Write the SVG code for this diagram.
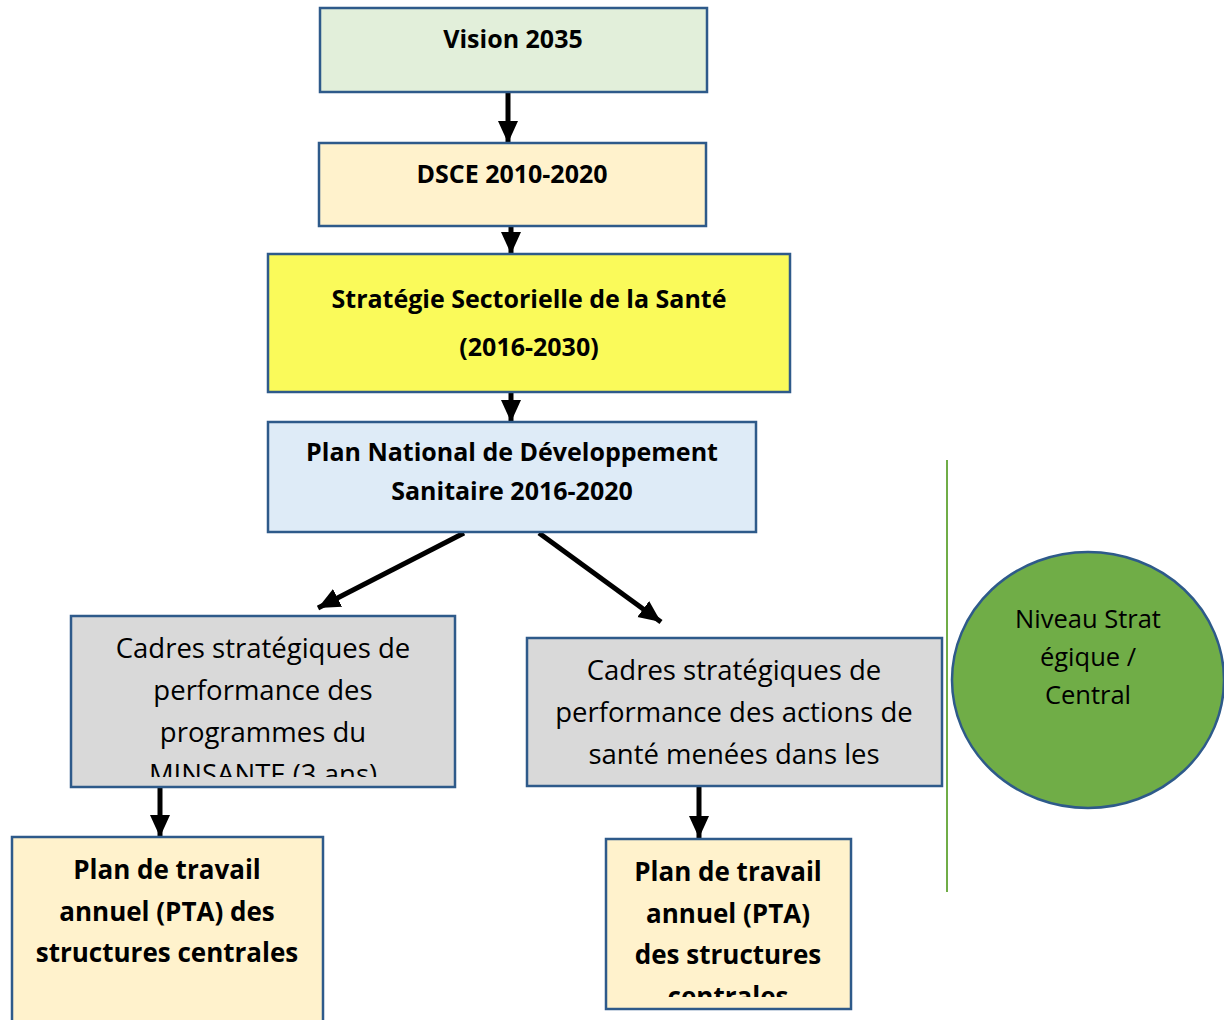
<svg xmlns="http://www.w3.org/2000/svg" width="1224" height="1020" viewBox="0 0 1224 1020">
<style>
.box{stroke:#2E5A8A;stroke-width:2.5}
.b{font-family:"Open Sans","Noto Sans",sans-serif;font-weight:bold;font-size:25px;fill:#000;text-anchor:middle}
.bp{font-size:26px}
.r{font-family:"Open Sans","Noto Sans",sans-serif;font-size:27.5px;fill:#000;text-anchor:middle}
.c{font-family:"Open Sans","Noto Sans",sans-serif;font-size:25.5px;fill:#000;text-anchor:middle}
.ar{stroke:#000;stroke-width:5;fill:none}
</style>
<defs>
<marker id="ah" markerUnits="userSpaceOnUse" markerWidth="24" markerHeight="24" viewBox="0 0 24 24" refX="22" refY="12" orient="auto">
<path d="M0,2 L22,12 L0,22 Z" fill="#000"/>
</marker>
<clipPath id="clipL"><rect x="72" y="617" width="382" height="160"/></clipPath>
<clipPath id="clipR"><rect x="528" y="639" width="413" height="146"/></clipPath>
<clipPath id="clipP"><rect x="607" y="840" width="243" height="157"/></clipPath>
</defs>
<rect width="1224" height="1020" fill="#fff"/>
<g id="connectors">
<line class="ar" x1="508" y1="93" x2="508" y2="143" marker-end="url(#ah)"/>
<line class="ar" x1="511" y1="222" x2="511" y2="254" marker-end="url(#ah)"/>
<line class="ar" x1="511" y1="392" x2="511" y2="422" marker-end="url(#ah)"/>
<line class="ar" x1="464" y1="533" x2="318" y2="608" marker-end="url(#ah)"/>
<line class="ar" x1="539" y1="533" x2="661" y2="622" marker-end="url(#ah)"/>
<line class="ar" x1="160" y1="788" x2="160" y2="837" marker-end="url(#ah)"/>
<line class="ar" x1="699" y1="787" x2="699" y2="838" marker-end="url(#ah)"/>
<line x1="947" y1="460" x2="947" y2="892" stroke="#70AD47" stroke-width="2"/>
</g>
<g id="vision">
<rect class="box" x="320" y="8" width="387" height="84" fill="#E2EFDA"/>
<text class="b" x="513" y="48">Vision 2035</text>
</g>
<g id="dsce">
<rect class="box" x="319" y="143" width="387" height="83" fill="#FFF2CC"/>
<text class="b" x="512" y="183">DSCE 2010-2020</text>
</g>
<g id="strategie">
<rect class="box" x="268" y="254" width="522" height="138" fill="#FAFA5A"/>
<text class="b" x="529" y="308">Stratégie Sectorielle de la Santé</text>
<text class="b" x="529" y="356">(2016-2030)</text>
</g>
<g id="pnds">
<rect class="box" x="268" y="422" width="488" height="110" fill="#DEEBF7"/>
<text class="b" x="512" y="461">Plan National de Développement</text>
<text class="b" x="512" y="500">Sanitaire 2016-2020</text>
</g>
<g id="cadres-programmes">
<rect class="box" x="71" y="616" width="384" height="171" fill="#D9D9D9"/>
<g clip-path="url(#clipL)">
<text class="r" x="263" y="658">Cadres stratégiques de</text>
<text class="r" x="263" y="700">performance des</text>
<text class="r" x="263" y="742">programmes du</text>
<text class="r" x="263" y="784">MINSANTE (3 ans)</text>
</g>
</g>
<g id="cadres-actions">
<rect class="box" x="527" y="638" width="415" height="148" fill="#D9D9D9"/>
<g clip-path="url(#clipR)">
<text class="r" x="734" y="680">Cadres stratégiques de</text>
<text class="r" x="734" y="722">performance des actions de</text>
<text class="r" x="734" y="764">santé menées dans les</text>
</g>
</g>
<g id="pta-left">
<rect class="box" x="12" y="837" width="311" height="200" fill="#FFF2CC"/>
<text class="b bp" x="167" y="879">Plan de travail</text>
<text class="b bp" x="167" y="921">annuel (PTA) des</text>
<text class="b bp" x="167" y="962">structures centrales</text>
</g>
<g id="pta-right">
<rect class="box" x="606" y="839" width="245" height="170" fill="#FFF2CC"/>
<g clip-path="url(#clipP)">
<text class="b bp" x="728" y="881">Plan de travail</text>
<text class="b bp" x="728" y="923">annuel (PTA)</text>
<text class="b bp" x="728" y="964">des structures</text>
<text class="b bp" x="728" y="1006">centrales</text>
</g>
</g>
<g id="niveau">
<ellipse cx="1088" cy="680" rx="136" ry="128" fill="#70AD47" stroke="#2E5A8A" stroke-width="2.5"/>
<text class="c" x="1088" y="628">Niveau Strat</text>
<text class="c" x="1088" y="666">égique /</text>
<text class="c" x="1088" y="704">Central</text>
</g>
</svg>
